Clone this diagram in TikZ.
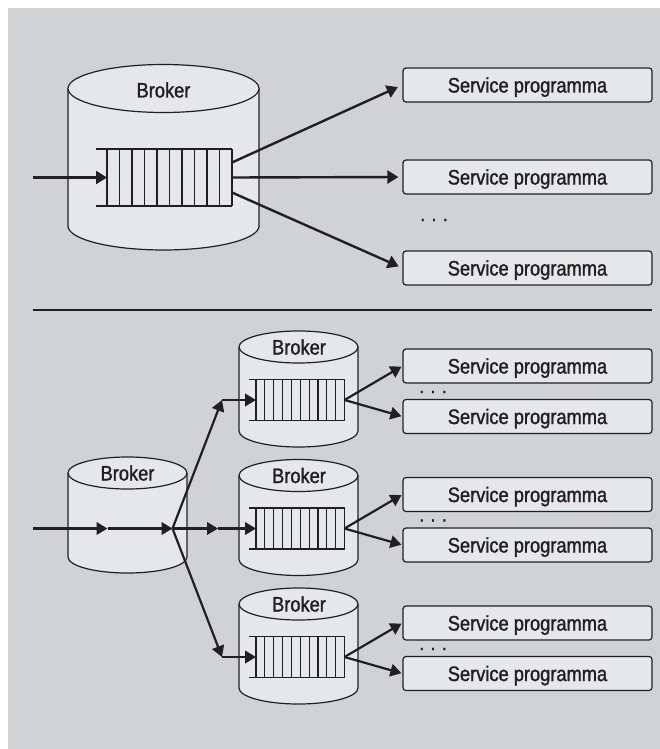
\documentclass[tikz,border=0pt]{standalone}
\usepackage{fontspec}
\setmainfont{Liberation Sans}[FakeStretch=0.87, FakeBold=1.4]
\usetikzlibrary{arrows.meta}

\definecolor{panel}{HTML}{D1D2D4}
\definecolor{lite}{HTML}{E6E7E8}
\definecolor{ink}{HTML}{231F20}

\tikzset{
  drumline/.style={draw=ink, fill=lite, line width=1.2pt},
  qline/.style={draw=ink, line width=1.2pt},
  lbl/.style={inner sep=0pt, text=ink, font=\fontsize{21}{25}\selectfont,
    text height=15pt, text depth=0pt},
  svc/.style={lbl, draw=ink, fill=lite, line width=1.2pt, rounded corners=3pt,
    minimum width=249pt, minimum height=34pt},
  dots/.style={inner sep=0pt, text=ink, font=\fontsize{20}{24}\selectfont},
  flow/.style={draw=ink, line width=2.4pt, -{Triangle[length=11pt,width=13pt]}},
  flowsm/.style={draw=ink, line width=2.2pt, -{Triangle[length=11pt,width=12.5pt]}},
  rule/.style={draw=ink, line width=2.5pt},
}

% cylinder: #1 centre x, #2 top ellipse y, #3 bottom ellipse y, #4 x radius, #5 y radius
\newcommand\brokerdrum[5]{%
  \filldraw[drumline] (#1-#4,#2) -- (#1-#4,#3)
    arc[start angle=180, end angle=360, x radius=#4pt, y radius=#5pt] -- (#1+#4,#2);
  \filldraw[drumline] (#1,#2) ellipse[x radius=#4pt, y radius=#5pt];
}

% message queue: #1 left x, #2 right x, #3 top y, #4 bottom y, #5 first bar x, #6 bar spacing
\newcommand\msgqueue[6]{%
  \draw[qline] (#1,#3) -- (#2,#3) (#1,#4) -- (#2,#4);
  \foreach \k in {0,...,10}{\draw[qline] ({#5+\k*#6},#3) -- ({#5+\k*#6},#4);}
}

\begin{document}
\begin{tikzpicture}[x=1pt, y=-1pt]
  \useasboundingbox (0,0) rectangle (660,749);
  \fill[panel] (8,8) rectangle (660,749);

  % ---------- single broker ----------
  \brokerdrum{163.5}{88.5}{226}{95.5}{24}
  \node[lbl] (brokerT) at (163.5,90) {Broker};
  \msgqueue{96}{232}{149}{206}{107}{12.5}
  \coordinate (inT) at (33,177.5);
  \coordinate (qT-in) at (107,177.5);
  \coordinate (qT-out1) at (232,162.5);
  \coordinate (qT-out2) at (232,177.5);
  \coordinate (qT-out3) at (232,192.5);

  \node[svc] (svcT1) at (527.5,85) {Service programma};
  \node[svc] (svcT2) at (527.5,177) {Service programma};
  \node[svc] (svcT3) at (527.5,268) {Service programma};
  \node[dots] (dotsT) at (434,220) {. . .};

  \draw[flow] (inT) -- (qT-in);
  \draw[flow, shorten >=5pt] (qT-out1) -- (svcT1.west);
  \draw[flow, shorten >=4pt] (qT-out2) -- (svcT2.west);
  \draw[flow, shorten >=4pt] (qT-out3) -- (svcT3.west);

  % ---------- separator ----------
  \coordinate (ruleL) at (33,310);
  \coordinate (ruleR) at (652,310);
  \draw[rule] (ruleL) -- (ruleR);

  % ---------- broker network ----------
  \brokerdrum{127.5}{473}{557}{59.5}{16}
  \node[lbl] (broker0) at (127.5,473) {Broker};

  \foreach \i/\dy in {1/0, 2/128.5, 3/257}{
    \brokerdrum{298.5}{347+\dy}{431+\dy}{59.5}{16}
    \node[lbl] (broker\i) at (299,347+\dy) {Broker};
    \msgqueue{249}{344.5}{379.5+\dy}{420.5+\dy}{256}{8.85}
    \coordinate (q\i-in) at (256,400+\dy);
    \coordinate (q\i-out) at (344.5,400+\dy);
    \node[svc] (svc\i-a) at (527.5,366+\dy) {Service programma};
    \node[svc] (svc\i-b) at (527.5,416.5+\dy) {Service programma};
    \node[dots] (dots\i) at (433,392+\dy) {. . .};
    \draw[flowsm, shorten >=1pt] (q\i-out) -- (svc\i-a.west);
    \draw[flowsm, shorten >=1pt] (q\i-out) -- (svc\i-b.west);
  }

  \coordinate (inL) at (33,528.5);
  \coordinate (j1) at (107.5,528.5);
  \coordinate (split) at (172.5,528.5);
  \coordinate (j2) at (218,528.5);
  \coordinate (c1) at (222,400);
  \coordinate (c3) at (222,657);

  \draw[flowsm] (inL) -- (j1);
  \draw[flowsm] (j1) -- (split);
  \draw[flowsm] (split) -- (c1);
  \draw[flowsm] (c1) -- (q1-in);
  \draw[flowsm] (split) -- (j2);
  \draw[flowsm] (j2) -- (q2-in);
  \draw[flowsm] (split) -- (c3);
  \draw[flowsm] (c3) -- (q3-in);
\end{tikzpicture}
\end{document}
